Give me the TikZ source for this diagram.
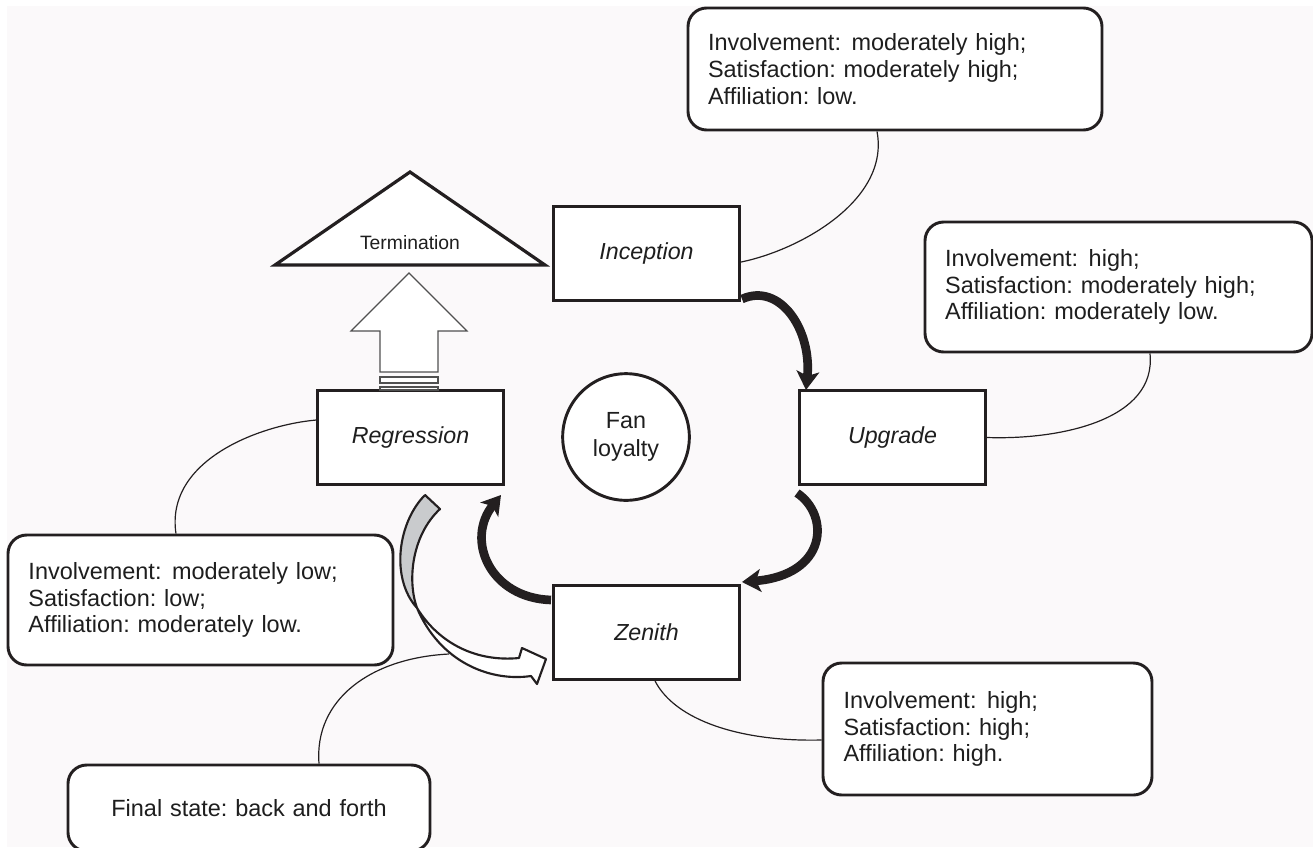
\documentclass[tikz,border=0pt]{standalone}
\usepackage{fontspec}
\setmainfont{Liberation Sans}
\usetikzlibrary{arrows.meta,calc}
\definecolor{ink}{HTML}{231F20}
\definecolor{txt}{HTML}{1E1E1E}
\definecolor{bgtint}{HTML}{FBF9FA}
\definecolor{ribbon}{HTML}{C9CBCD}
\definecolor{hollow}{HTML}{505050}
\newcommand{\calloutfont}{\fontsize{17.6pt}{20pt}\selectfont\frenchspacing}
\newcommand{\stagefont}{\fontsize{17.4pt}{20pt}\selectfont\itshape}
\begin{document}
\begin{tikzpicture}[x=0.75pt,y=-0.75pt,
  stagebox/.style={draw=ink, line width=2.2pt, fill=white, text=txt,
    minimum width=139.5pt, minimum height=70.5pt, font=\stagefont},
  callout/.style={draw=ink, line width=2.2pt, rounded corners=14pt, fill=white,
    text=txt, align=left, font=\calloutfont, inner xsep=15pt, inner ysep=0pt},
  conn/.style={draw=ink, line width=0.9pt},
  bigarrow/.style={draw=ink, line width=6.5pt,
    -{Stealth[length=14pt, width=17pt, inset=3.5pt]}},
  ribbonline/.style={draw=ink, line width=1.6pt, line join=round}
]
\useasboundingbox (0,0) rectangle (1313,847);
\clip (0,0) rectangle (1313,847);
\fill[white] (0,0) rectangle (1313,847);
\fill[bgtint] (7,6) rectangle (1313,847);

% stage boxes
\node[stagebox] (inc) at (646.5,253.5) {Inception};
\node[stagebox] (upg) at (892.5,437.5) {Upgrade};
\node[stagebox] (zen) at (646.5,632.5) {Zenith};
\node[stagebox] (reg) at (410.5,437.5) {Regression};

% centre circle
\node[circle, draw=ink, line width=2.2pt, fill=white, text=txt, align=center,
  minimum size=95pt, inner sep=0pt, font=\fontsize{17.5pt}{21pt}\selectfont] (fan) at (626,437) {Fan\\loyalty};

% termination triangle
\draw[ink, line width=2.4pt, fill=white, line join=miter] (275,265) -- (410,172) -- (545,265) -- cycle;
\node[text=txt, font=\fontsize{14.5pt}{16pt}\selectfont] (term) at (410,243) {Termination};

% hollow up arrow from Regression to Termination
\draw[hollow, line width=0.9pt, fill=white] (380,372) -- (380,331) -- (351,331) -- (409,273)
  -- (467,331) -- (438,331) -- (438,372) -- cycle;
\draw[hollow, line width=0.9pt, fill=white] (380,377) rectangle (438,383);
\draw[hollow, line width=0.9pt, fill=white] (380,387) rectangle (438,390);

% callouts
\node[callout, minimum width=310.5pt, text width=280.5pt, minimum height=91.5pt] (c1) at (895,69)
  {Involvement:\hspace{0.45em}moderately high;\\Satisfaction: moderately high;\\Affiliation: low.};
\node[callout, minimum width=290.25pt, text width=260pt, minimum height=97.5pt] (c2) at (1118.5,287)
  {Involvement:\hspace{0.45em}high;\\Satisfaction: moderately high;\\Affiliation: moderately low.};
\node[callout, minimum width=288.75pt, text width=258pt, minimum height=97.5pt] (c3) at (200.5,600)
  {Involvement:\hspace{0.45em}moderately low;\\Satisfaction: low;\\Affiliation: moderately low.};
\node[callout, minimum width=246.75pt, text width=216pt, minimum height=99pt] (c4) at (987.5,729)
  {Involvement:\hspace{0.45em}high;\\Satisfaction: high;\\Affiliation: high.};
\node[callout, align=center, minimum width=271.5pt, text width=241pt, minimum height=64.5pt] (c5) at (249,808)
  {Final state: back and forth};

% thin connectors
\draw[conn] ([xshift=-13.5pt]c1.south) .. controls (890,200) and (800,250) .. ([yshift=-6.4pt]inc.east);
\draw[conn] ([xshift=23.6pt]c2.south) .. controls (1157,420) and (1060,440) .. (upg.east);
\draw[conn] ([xshift=-18.4pt]c3.north) .. controls (165,460) and (260,425) .. ([yshift=13.1pt]reg.west);
\draw[conn] ([yshift=-8.25pt]c4.west) .. controls (740,742) and (675,720) .. ([xshift=6.4pt]zen.south);
\coordinate (ribbontail) at (449,654);
\draw[conn] ([xshift=52.5pt]c5.north) .. controls (314,700) and (370,658) .. (ribbontail);

% curved ribbon arrow (Regression back to Zenith)
\filldraw[ribbonline, fill=ribbon] (425,495) .. controls (398,522) and (390,578) .. (417,608)
  .. controls (407,580) and (412,535) .. (440,509) -- cycle;
\filldraw[ribbonline, fill=white] (417,608) .. controls (440,662) and (490,682) .. (531,676)
  -- (537,684) -- (546,659) -- (522,648) -- (519,658)
  .. controls (478,662) and (440,645) .. (417,608) -- cycle;

% black curved arrows
\coordinate (a1s) at (742,299);
\coordinate (a1e) at (806,390);
\coordinate (a2s) at (797,493);
\coordinate (a2e) at (742,582);
\coordinate (a3s) at (551,600);
\coordinate (a3e) at (501,495);
\draw[bigarrow] (a1s) .. controls (780,282) and (812,330) .. (a1e);
\draw[bigarrow] (a2s) .. controls (830,515) and (828,575) .. (a2e);
\draw[bigarrow] (a3s) .. controls (490,598) and (465,540) .. (a3e);
\end{tikzpicture}
\end{document}
